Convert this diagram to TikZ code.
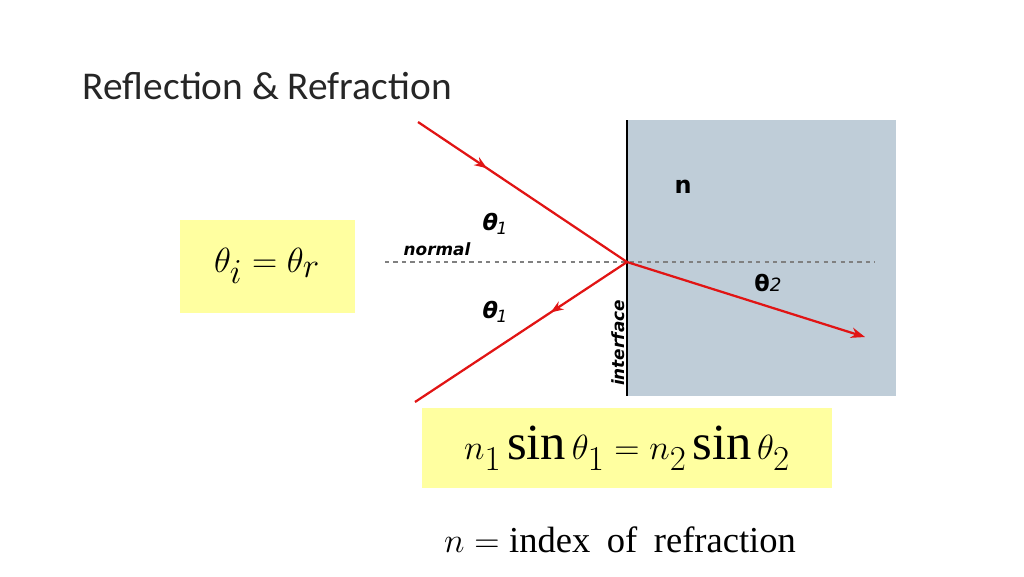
\documentclass[tikz,border=0pt]{standalone}
\usepackage{fontspec}
\setmainfont{Carlito}
\setmathrm{Liberation Serif}
\newfontfamily\labfont{DejaVu Sans}
\usetikzlibrary{arrows.meta,decorations.markings}
\definecolor{glasscol}{RGB}{191,205,216}
\definecolor{boxcol}{RGB}{255,255,160}
\definecolor{raycol}{RGB}{225,20,20}
\tikzset{
  ray/.style={raycol, line width=1.6pt},
  mid arrow/.style={postaction={decorate}},
  lab/.style={font=\labfont\bfseries\itshape\fontsize{12}{12}\selectfont},
  theta/.style={font=\labfont\bfseries\fontsize{16}{16}\selectfont},
  formula/.style={fill=boxcol, inner sep=0pt}
}
\begin{document}
\begin{tikzpicture}[x=0.25mm, y=-0.25mm]
	\useasboundingbox (0,0) rectangle (1024,576);
	\node[anchor=west, font=\fontsize{28}{28}\selectfont, text=black!85] (title) at (78,86) {Reflection \& Refraction};
	% glass block
	\fill[glasscol] (627,120) rectangle (896,396);
	\draw[line width=0.8pt] (627,120) -- (627,396);
	\draw[gray, dashed, line width=0.8pt] (385,262) -- (875,262);
	% rays
	\coordinate (o) at (627,262);
	\coordinate (src) at (418,122);
	\coordinate (refl) at (415,402);
	\coordinate (refr) at (865,337);
	\draw[ray, decoration={markings, mark=at position 0.33 with {\arrow{Stealth[length=9pt]}}}, mid arrow] (src) -- (o);
	\draw[ray, decoration={markings, mark=at position 0.36 with {\arrow{Stealth[length=9pt]}}}, mid arrow] (o) -- (refl);
	\draw[ray, -{Stealth[length=10pt]}] (o) -- (refr);
	% labels
	\node[lab] (nrm) at (437,249) {normal};
	\node[theta] (ta) at (495,224) {\itshape θ\hspace{-1pt}\raisebox{-3pt}{\mdseries\fontsize{12}{12}\selectfont 1}};
	\node[theta] (tb) at (495,312) {\itshape θ\hspace{-1pt}\raisebox{-3pt}{\mdseries\fontsize{12}{12}\selectfont 1}};
	\node[font=\labfont\bfseries\fontsize{17}{17}\selectfont] (nn) at (683,187) {n};
	\node[theta] (tc) at (768,283) {θ{\itshape\mdseries\fontsize{13}{13}\selectfont 2}};
	\node[lab, rotate=90] (intf) at (618,343) {interface};
	% formulas
	\node[formula, minimum width=43.75mm, minimum height=23.25mm] (snell1) at (267,266) {\fontsize{40}{40}\selectfont $\theta_i=\theta_r$};
	\node[formula, minimum width=102.5mm, minimum height=20mm] (snell2) at (627,448) {\fontsize{36}{36}\selectfont $n_1\,\mathrm{sin}\,\theta_1=n_2\,\mathrm{sin}\,\theta_2$};
	\node (idx) at (620,540) {\fontsize{26}{26}\selectfont $n=\mathrm{index\ \ of\ \ refraction}$};
\end{tikzpicture}
\end{document}
